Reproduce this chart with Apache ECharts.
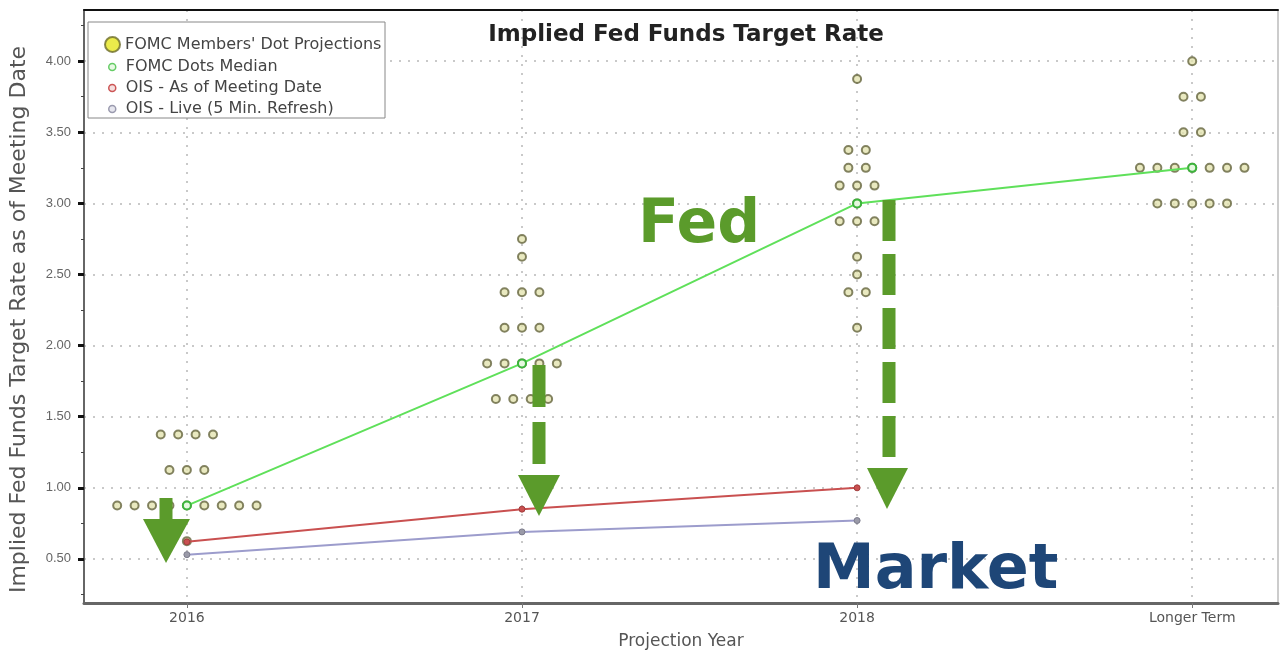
<!DOCTYPE html>
<html>
<head>
<meta charset="utf-8">
<title>Implied Fed Funds Target Rate</title>
<script src="https://cdn.jsdelivr.net/npm/echarts@6/dist/echarts.min.js"></script>
<style>
  html, body { margin: 0; padding: 0; background: #fff; }
  #chart { width: 1282px; height: 655px; }
</style>
</head>
<body>
<div id="chart"></div>
<script>
// categories on the x axis
var categories = ['2016', '2017', '2018', 'Longer Term'];

// FOMC dot plot: rate level and number of members at that level
var dotLevels2016 = [0.625, 0.875, 1.125, 1.375];
var dotCounts2016 = [1, 9, 3, 4];
var dotLevels2017 = [1.625, 1.875, 2.125, 2.375, 2.625, 2.75];
var dotCounts2017 = [4, 5, 3, 3, 1, 1];
var dotLevels2018 = [2.125, 2.375, 2.5, 2.625, 2.875, 3.0, 3.125, 3.25, 3.375, 3.875];
var dotCounts2018 = [1, 2, 1, 1, 3, 1, 3, 2, 2, 1];
var dotLevelsLT = [3.0, 3.25, 3.5, 3.75, 4.0];
var dotCountsLT = [5, 7, 2, 2, 1];

// line series (one value per category)
var medianDots = [0.875, 1.875, 3.0, 3.25];
var oisMeeting = [0.62, 0.85, 1.0];
var oisLive = [0.53, 0.69, 0.77];

// tick labels
var yTicks = [0.5, 1.0, 1.5, 2.0, 2.5, 3.0, 3.5, 4.0];
var yMinorTicks = [0.25, 0.75, 1.25, 1.75, 2.25, 2.75, 3.25, 3.75, 4.25];
var xTicks = [0, 1, 2, 3];

var DOT_GAP = 0.052; // horizontal spacing of dots in one row (category units)

function dotRows(catIndex, levels, counts) {
    var out = [];
    for (var i = 0; i < levels.length; i++) {
        var n = counts[i];
        for (var k = 0; k < n; k++) {
            out.push([catIndex + (k - (n - 1) / 2) * DOT_GAP, levels[i]]);
        }
    }
    return out;
}

var dots = [].concat(
    dotRows(0, dotLevels2016, dotCounts2016),
    dotRows(1, dotLevels2017, dotCounts2017),
    dotRows(2, dotLevels2018, dotCounts2018),
    dotRows(3, dotLevelsLT, dotCountsLT)
);

function toPairs(values) {
    return values.map(function (v, i) { return [i, v]; });
}

var NAME_DOTS = "FOMC Members' Dot Projections";
var NAME_MEDIAN = 'FOMC Dots Median';
var NAME_OIS = 'OIS - As of Meeting Date';
var NAME_LIVE = 'OIS - Live (5 Min. Refresh)';

var arrowGreen = '#5b9b2b';
var gridDots = { color: '#b8b8b8', type: [2, 7], width: 1.5 };

var myChart = echarts.init(document.getElementById('chart'));

var option = {
    animation: false,
    title: {
        text: 'Implied Fed Funds Target Rate',
        left: 681,
        textAlign: 'center',
        top: 19,
        textStyle: { fontFamily: 'DejaVu Sans', fontWeight: 'bold', fontSize: 23, color: '#222' }
    },
    grid: {
        left: 82, right: 4, top: 10, bottom: 51,
        show: true, borderColor: '#999', borderWidth: 1
    },
    legend: [{
        data: [{ name: NAME_DOTS, icon: 'circle',
                 itemStyle: { color: '#e6e61e', borderColor: '#6b6b2a', borderWidth: 2 } }],
        left: 99, top: 31, itemWidth: 15, itemHeight: 15,
        selectedMode: false, z: 10,
        textStyle: { fontFamily: 'DejaVu Sans', fontSize: 16, color: '#444' }
    }, {
        data: [
            { name: NAME_MEDIAN, icon: 'circle', itemStyle: { color: '#e8f8e4', borderColor: '#66cc66', borderWidth: 1.5 } },
            { name: NAME_OIS, icon: 'circle', itemStyle: { color: '#f4dede', borderColor: '#cc5555', borderWidth: 1.5 } },
            { name: NAME_LIVE, icon: 'circle', itemStyle: { color: '#e6e6ee', borderColor: '#9a9aae', borderWidth: 1.5 } }
        ],
        orient: 'vertical',
        left: 103, top: 52, itemWidth: 7, itemHeight: 7, itemGap: 1,
        selectedMode: false, z: 10,
        textStyle: { fontFamily: 'DejaVu Sans', fontSize: 16, color: '#444', lineHeight: 20, padding: [0, 0, 0, 5] }
    }],
    xAxis: [{
        type: 'value',
        min: -0.307, max: 3.256,
        name: 'Projection Year',
        nameLocation: 'middle',
        nameGap: 30,
        nameTextStyle: { fontFamily: 'DejaVu Sans', fontSize: 17, color: '#555' },
        axisLine: { onZero: false, lineStyle: { color: '#666', width: 3 } },
        axisTick: { customValues: xTicks, length: 5, lineStyle: { color: '#777' } },
        axisLabel: {
            customValues: xTicks,
            formatter: function (v) { return categories[Math.round(v)]; },
            fontFamily: 'DejaVu Sans', fontSize: 14, color: '#555', margin: 8
        },
        splitLine: { show: true, lineStyle: gridDots }
    }, {
        type: 'value', position: 'top',
        min: -0.307, max: 3.256,
        axisLine: { show: true, onZero: false, lineStyle: { color: '#111', width: 2 } },
        axisTick: { show: false }, axisLabel: { show: false }, splitLine: { show: false }
    }],
    yAxis: [{
        type: 'value',
        min: 0.19, max: 4.36,
        name: 'Implied Fed Funds Target Rate as of Meeting Date',
        nameLocation: 'middle',
        nameRotate: 90,
        nameGap: 54,
        nameTextStyle: { fontFamily: 'DejaVu Sans', fontSize: 22, color: '#555', padding: [0, 26, 0, 0] },
        axisLine: { show: true, onZero: false, lineStyle: { color: '#666', width: 2 } },
        axisTick: { customValues: yTicks, length: 6, lineStyle: { color: '#111', width: 3 } },
        axisLabel: {
            customValues: yTicks,
            formatter: function (v) { return v.toFixed(2); },
            fontFamily: 'Liberation Sans', fontSize: 13, color: '#666', margin: 13
        },
        splitLine: { show: true, lineStyle: gridDots }
    }, {
        type: 'value', position: 'left',
        min: 0.19, max: 4.36,
        axisLine: { show: false, onZero: false },
        axisTick: { show: true, customValues: yMinorTicks, length: 3, lineStyle: { color: '#444', width: 1 } },
        axisLabel: { show: false },
        splitLine: { show: false }
    }],
    series: [{
        name: NAME_DOTS,
        type: 'scatter',
        data: dots,
        symbol: 'circle',
        symbolSize: 8,
        itemStyle: { color: '#e4e3b0', borderColor: '#65653e', borderWidth: 2 },
        z: 3
    }, {
        name: NAME_MEDIAN,
        type: 'line',
        data: toPairs(medianDots),
        symbol: 'circle',
        symbolSize: 8,
        lineStyle: { color: '#5fe05a', width: 2 },
        itemStyle: { color: '#e6f8e0', borderColor: '#3cb43c', borderWidth: 2 },
        z: 4
    }, {
        name: NAME_OIS,
        type: 'line',
        data: toPairs(oisMeeting),
        symbol: 'circle',
        symbolSize: 6,
        lineStyle: { color: '#c95050', width: 2 },
        itemStyle: { color: '#c95050', borderColor: '#a03c3c', borderWidth: 1 },
        z: 4
    }, {
        name: NAME_LIVE,
        type: 'line',
        data: toPairs(oisLive),
        symbol: 'circle',
        symbolSize: 6,
        lineStyle: { color: '#9c9ccc', width: 2 },
        itemStyle: { color: '#9a9aa8', borderColor: '#7a7a8a', borderWidth: 1 },
        z: 4
    }],
    graphic: [
        // legend box
        { type: 'rect', z: 9, shape: { x: 88, y: 22, width: 297, height: 96 },
          style: { fill: '#fff', stroke: '#888', lineWidth: 1 } },
        // arrows
        { type: 'line', z: 20, shape: { x1: 166, y1: 498, x2: 166, y2: 524 },
          style: { stroke: arrowGreen, lineWidth: 13 } },
        { type: 'polygon', z: 20, shape: { points: [[143, 519], [190, 519], [166, 563]] },
          style: { fill: arrowGreen } },
        { type: 'line', z: 20, shape: { x1: 539, y1: 365, x2: 539, y2: 464 },
          style: { stroke: arrowGreen, lineWidth: 13, lineDash: [42, 15] } },
        { type: 'polygon', z: 20, shape: { points: [[518, 475], [560, 475], [539, 516]] },
          style: { fill: arrowGreen } },
        { type: 'line', z: 20, shape: { x1: 889, y1: 200, x2: 889, y2: 458 },
          style: { stroke: arrowGreen, lineWidth: 13, lineDash: [41, 13] } },
        { type: 'polygon', z: 20, shape: { points: [[867, 468], [908, 468], [887, 509]] },
          style: { fill: arrowGreen } },
        // big annotations
        { type: 'text', z: 21, style: { text: 'Fed', x: 638, y: 226, verticalAlign: 'middle',
          font: 'bold 60px "DejaVu Sans"', fill: arrowGreen } },
        { type: 'text', z: 21, style: { text: 'Market', x: 813, y: 572, verticalAlign: 'middle',
          font: 'bold 62px "DejaVu Sans"', fill: '#1e4677' } }
    ]
};

myChart.setOption(option);
</script>
</body>
</html>
